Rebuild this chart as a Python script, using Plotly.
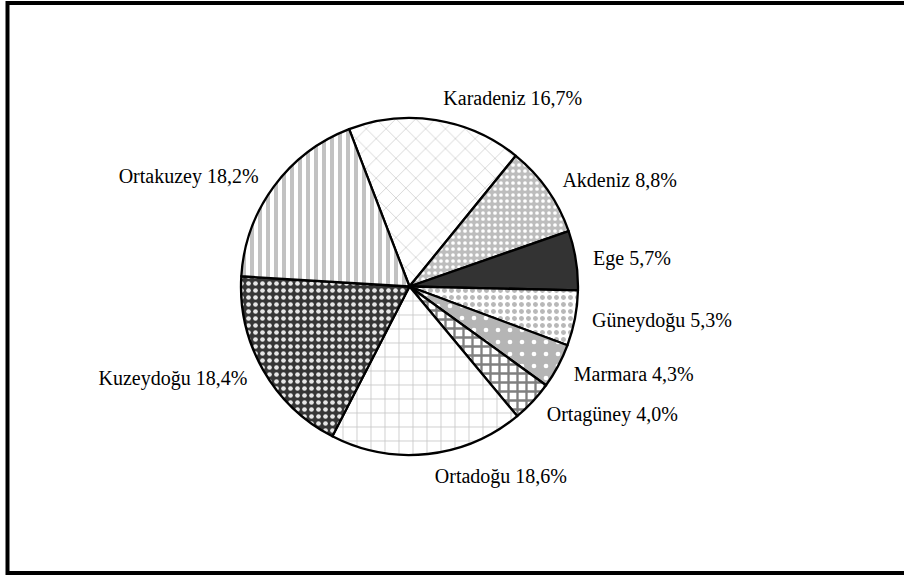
import plotly.graph_objects as go

regions = ["Karadeniz", "Akdeniz", "Ege", "Güneydoğu", "Marmara",
           "Ortagüney", "Ortadoğu", "Kuzeydoğu", "Ortakuzey"]
shares = [16.7, 8.8, 5.7, 5.3, 4.3, 4.0, 18.6, 18.4, 18.2]

labels_text = [f"{r} {v:.1f}%".replace(".", ",") for r, v in zip(regions, shares)]

pattern_shapes = ["x", ".", "", ".", ".", "+", "+", ".", "|"]
fg_colors = ["#d2d2d2", "#ffffff", "#333333", "#b8b8b8", "#ffffff",
             "#808080", "#c8c8c8", "#e6e6e6", "#c2c2c2"]
bg_colors = ["#ffffff", "#bdbdbd", "#333333", "#ffffff", "#b5b5b5",
             "#ffffff", "#ffffff", "#363636", "#ffffff"]
fill_colors = ["#ffffff", "#bdbdbd", "#333333", "#ffffff", "#b5b5b5",
               "#ffffff", "#ffffff", "#363636", "#ffffff"]
pattern_sizes = [14, 6, 8, 7, 12, 9, 14, 7, 8]
pattern_solidity = [0.12, 0.3, 0.3, 0.4, 0.12, 0.45, 0.12, 0.35, 0.5]

W, H = 904, 577
cx, cy, r = 409.5, 286.5, 168.5
r_lab = 180  # radius of the invisible pie that carries the outside labels


def dom(rad):
    return dict(x=[(cx - rad) / W, (cx + rad) / W],
                y=[(H - cy - rad) / H, (H - cy + rad) / H])


fig = go.Figure()
fig.add_trace(go.Pie(
    labels=regions,
    values=shares,
    textinfo="none",
    sort=False,
    direction="clockwise",
    rotation=-21,
    hoverinfo="label+percent",
    marker=dict(
        colors=fill_colors,
        line=dict(color="#000000", width=2.3),
        pattern=dict(shape=pattern_shapes, fgcolor=fg_colors, bgcolor=bg_colors,
                     size=pattern_sizes, solidity=pattern_solidity, fillmode="replace"),
    ),
    domain=dom(r),
    showlegend=False,
))
fig.add_trace(go.Pie(
    labels=regions,
    values=shares,
    text=labels_text,
    textinfo="text",
    textposition="outside",
    sort=False,
    direction="clockwise",
    rotation=-21,
    hoverinfo="skip",
    outsidetextfont=dict(family="Liberation Serif", size=20, color="#000000"),
    marker=dict(colors=["rgba(0,0,0,0)"] * len(regions), line=dict(width=0)),
    domain=dom(r_lab),
    showlegend=False,
))

fig.update_layout(
    width=W, height=H,
    margin=dict(l=0, r=0, t=0, b=0),
    paper_bgcolor="#ffffff",
    plot_bgcolor="#ffffff",
    font=dict(family="Liberation Serif", size=20, color="#000000"),
    shapes=[dict(type="rect", xref="paper", yref="paper",
                 x0=7.5 / W, x1=1.02, y0=4 / H, y1=(H - 3) / H,
                 line=dict(color="#000000", width=4), fillcolor="rgba(0,0,0,0)", layer="above")],
)

fig.write_html("out.html", config={"displayModeBar": False},
               post_script="document.body.style.margin='0';document.body.style.overflow='hidden';")
